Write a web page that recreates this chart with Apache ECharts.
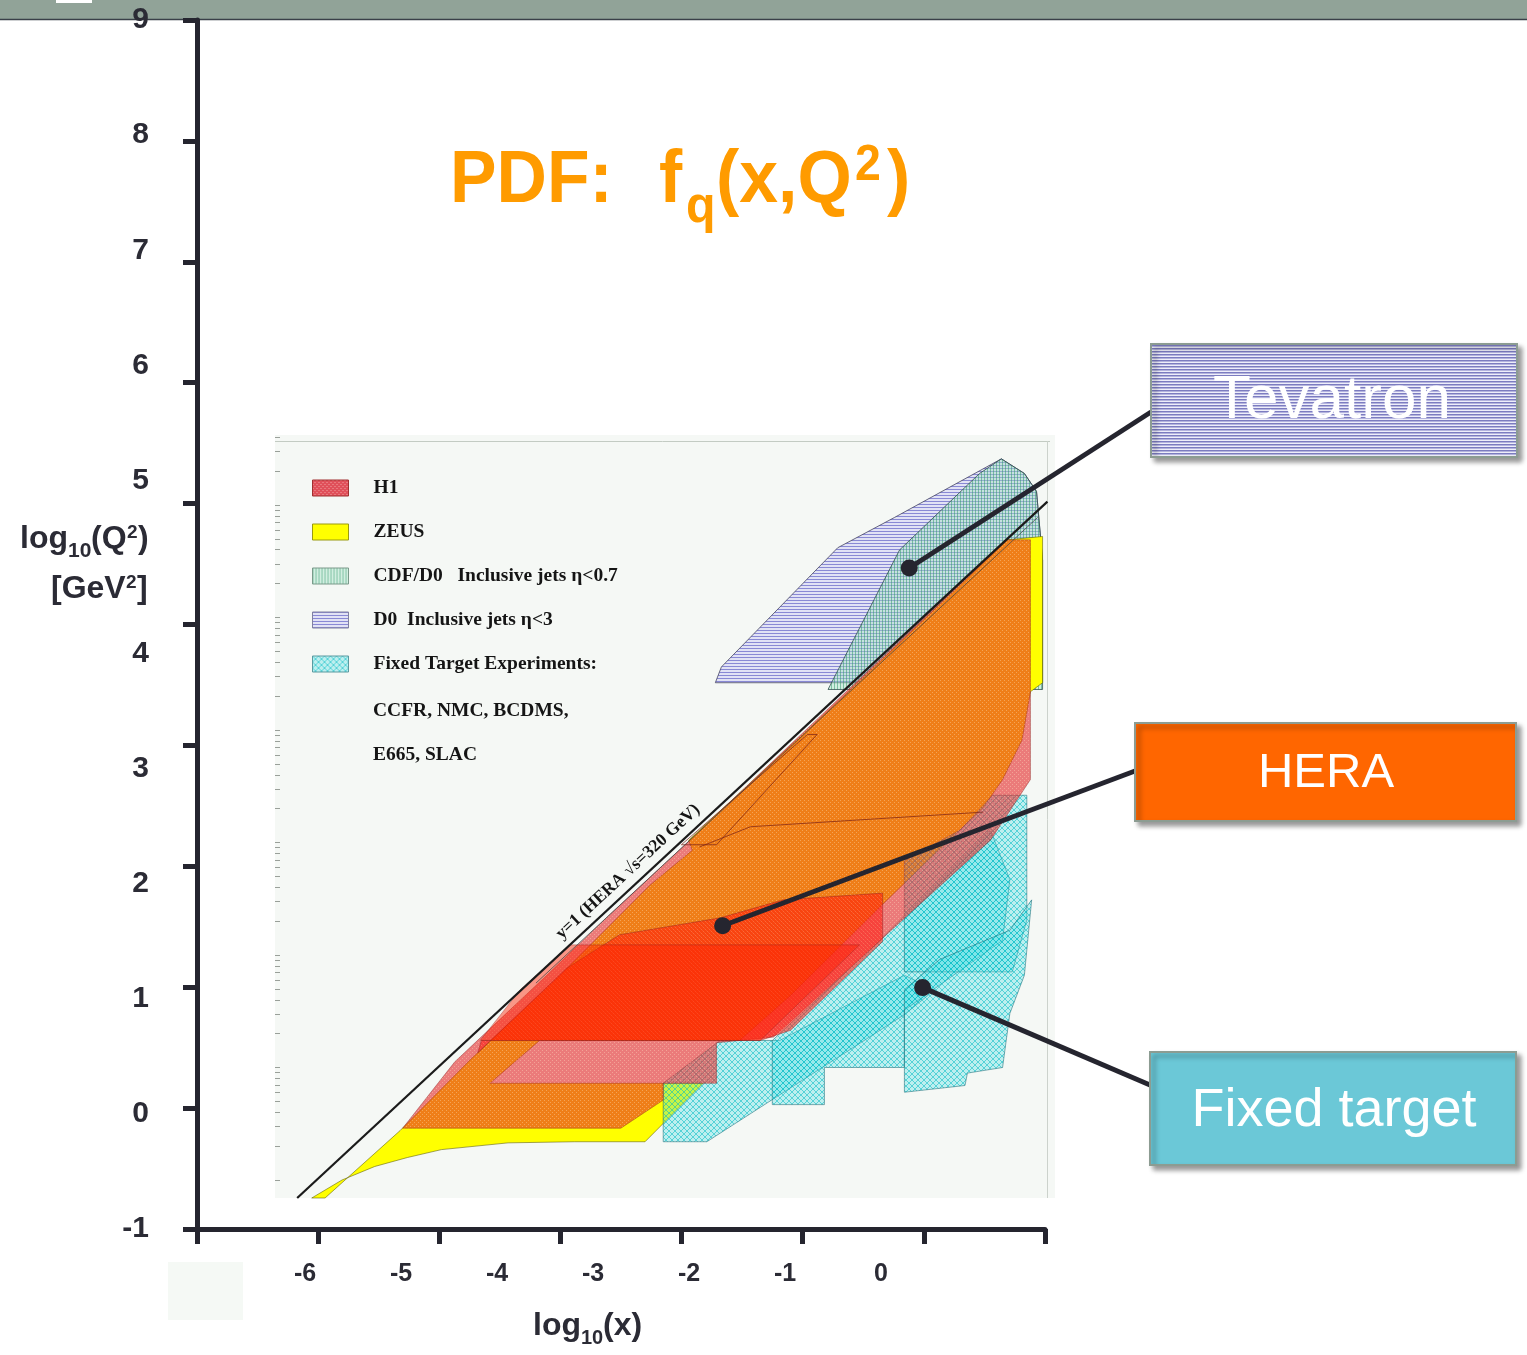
<!DOCTYPE html>
<html>
<head>
<meta charset="utf-8">
<script src="https://cdn.jsdelivr.net/npm/echarts/dist/echarts.min.js"></script>
<style>html,body{margin:0;padding:0;background:#fff;}#c{width:1527px;height:1355px;}</style>
</head>
<body>
<div id="c"></div>
<script>
// ---------------- DATA ----------------
const Y_TICKS = [-1, 0, 1, 2, 3, 4, 5, 6, 7, 8, 9];
// tick labels as placed on the slide (bottom to top, blank slots keep the original spacing)
const Y_LABEL_SLOTS = ['-1','','0','','1','','2','','3','','4','','','5','','6','','7','','8','','9'];
const X_TICK_LABELS = [-6, -5, -4, -3, -2, -1, 0];
const LEGEND_NAMES = ['H1', 'ZEUS', 'CDF/D0   Inclusive jets η<0.7', 'D0  Inclusive jets η<3', 'Fixed Target Experiments:'];
const LEGEND_EXTRA = ['CCFR, NMC, BCDMS,', 'E665, SLAC'];

// kinematic limit y=1 (log10 Q2 vs log10 x)
const KIN_LINE = [[-6.17, -1.16], [0.02, 5.03]];
const KIN_LINE_2 = [[-4.2, 0.75], [-0.06, 4.89]];
const KIN_LABEL = 'y=1 (HERA √s=320 GeV)';
const KIN_LABEL_POS = [-3.44, 1.74];

// Tevatron
const D0_ETA3 = [[-2.72,3.42],[-2.67,3.56],[-1.71,4.62],[-1.24,4.89],[-0.36,5.41],[-0.17,5.28],[-0.07,5.12],[-0.02,4.51],[-0.02,3.42]];
const CDF_ETA07 = [[-1.79,3.36],[-1.20,4.60],[-0.54,5.28],[-0.36,5.41],[-0.17,5.28],[-0.07,5.12],[-0.02,4.51],[-0.02,3.36]];

// HERA
const ZEUS_REGION = [[-5.94,-1.16],[-5.32,-0.56],[-4.74,0.07],[-4.00,0.82],[-3.26,1.62],[-2.91,1.93],[-2.94,2.02],[-1.67,3.29],[-0.31,4.69],[-0.02,4.72],[-0.02,3.42],[-0.12,3.34],[-0.19,2.91],[-0.35,2.56],[-0.51,2.31],[-1.34,1.45],[-2.10,0.64],[-2.52,0.24],[-4.17,0.24],[-4.58,-0.14],[-2.82,-0.14],[-3.30,-0.66],[-3.88,-0.66],[-4.43,-0.67],[-4.98,-0.73],[-5.26,-0.80],[-5.53,-0.88],[-5.80,-1.00],[-6.05,-1.16]];
const H1_MAIN = [[-5.30,-0.54],[-4.87,0.05],[-4.13,0.80],[-3.59,1.36],[-2.97,1.98],[-1.69,3.29],[-0.32,4.69],[-0.12,4.69],[-0.12,2.56],[-0.45,2.02],[-1.36,1.13],[-2.24,0.27],[-2.71,0.22],[-2.71,-0.14],[-3.15,-0.14],[-3.15,-0.29],[-3.50,-0.54]];
const H1_LOWQ = [[-4.68,0.13],[-3.95,0.88],[-3.51,1.18],[-2.68,1.33],[-2.16,1.49],[-1.34,1.55],[-1.34,1.12],[-2.10,0.33],[-2.35,0.24],[-4.65,0.24]];
const H1_SVX = [[-4.66,0.24],[-2.35,0.24],[-1.53,1.09],[-3.92,1.09],[-4.33,0.69]];
const H1_EDGE_A = [[-3.00,1.98],[-2.71,1.98],[-1.88,2.96],[-1.96,2.96],[-3.00,1.98]];
const H1_EDGE_B = [[-2.85,1.96],[-2.43,2.14],[-0.51,2.27]];

// Fixed target experiments
const FT_E665 = [[-3.15,-0.14],[-3.15,-0.66],[-2.79,-0.66],[-1.16,0.47],[-0.91,0.69],[-1.16,0.82],[-2.19,0.24],[-2.68,0.24]];
const FT_NMC = [[-2.25,0.24],[-2.25,-0.33],[-1.82,-0.33],[-1.82,0.00],[-1.16,0.00],[-1.16,0.51],[-0.35,1.13],[-0.29,1.67],[-0.45,2.11],[-1.36,1.13]];
const FT_BCDMS = [[-1.16,1.84],[-1.16,0.85],[-0.27,0.85],[-0.15,1.31],[-0.15,2.42],[-0.43,2.42],[-0.70,2.11]];
const FT_SLAC = [[-1.16,-0.22],[-0.66,-0.16],[-0.64,-0.05],[-0.35,0.00],[-0.29,0.48],[-0.17,0.82],[-0.11,1.49],[-0.29,1.22],[-0.87,0.96],[-1.16,0.69]];

// callouts
const CALLOUT_LABELS = ['Tevatron', 'HERA', 'Fixed target'];
const CALLOUT_DOTS = [[-1.12,4.44],[-2.66,1.26],[-1.01,0.71]];

// ---------------- STYLE / LAYOUT ----------------
const AX = '#25252f';
const TXT = '#2b2b35';
const SANS = 'Liberation Sans, Arial, sans-serif';
const SERIF = 'Liberation Serif, Times New Roman, serif';
const CALLOUT_ANCHORS = [[1151,412],[1135,771],[1150,1085]];

function pat(w, h, fn) {
  const c = document.createElement('canvas'); c.width = w; c.height = h;
  fn(c.getContext('2d'));
  return { image: c, repeat: 'repeat' };
}
const PAT_D0 = pat(4,3,g=>{g.fillStyle='rgba(212,212,245,0.6)';g.fillRect(0,0,4,3);g.fillStyle='rgba(115,115,205,0.8)';g.fillRect(0,0,4,1);});
const PAT_CDF = pat(3,4,g=>{g.fillStyle='rgba(160,225,195,0.42)';g.fillRect(0,0,3,4);g.fillStyle='rgba(55,155,110,0.55)';g.fillRect(0,0,1,4);});
const PAT_FT = pat(6,6,g=>{g.fillStyle='rgba(70,222,228,0.32)';g.fillRect(0,0,6,6);g.fillStyle='rgba(0,185,195,0.55)';for(let i=0;i<6;i++){g.fillRect(i,i,1,1);g.fillRect(5-i,i,1,1);}});
const PAT_H1 = pat(4,4,g=>{g.fillStyle='rgba(228,40,40,0.6)';g.fillRect(0,0,4,4);g.fillStyle='rgba(255,235,200,0.35)';g.fillRect(0,0,1,1);g.fillRect(2,2,1,1);});
const PAT_H1B = pat(4,4,g=>{g.fillStyle='rgba(255,20,10,0.55)';g.fillRect(0,0,4,4);g.fillStyle='rgba(255,200,150,0.3)';g.fillRect(1,1,1,1);g.fillRect(3,3,1,1);});
const PAT_H1_LEG = pat(4,4,g=>{g.fillStyle='#e0505a';g.fillRect(0,0,4,4);g.fillStyle='#f0a0a0';g.fillRect(0,0,1,1);g.fillRect(2,2,1,1);});
const PAT_TEV = pat(4,3,g=>{g.fillStyle='#eeeefa';g.fillRect(0,0,4,3);g.fillStyle='#7c7cc0';g.fillRect(0,0,4,1);g.fillStyle='#b4b4de';g.fillRect(0,1,4,1);});

const INNER_TICKS = [];
for (let d = -1; d <= 5; d++) for (let k = 1; k <= 9; k++) { const v = d + Math.log10(k); if (v >= -1.16 && v <= 5.62) INNER_TICKS.push(v); }

function polySeries(name, polys, styles, z, shapeType) {
  return {
    type: 'custom', name: name, xAxisIndex: 2, yAxisIndex: 1, z: z, silent: true,
    data: polys.map((p, i) => [p[0][0], p[0][1], i]),
    encode: { x: 0, y: 1 },
    renderItem: function (params, api) {
      const i = api.value(2);
      const pts = polys[i].map(pt => api.coord(pt));
      return { type: shapeType || 'polygon', shape: { points: pts }, style: styles[i] };
    }
  };
}

const H1_EDGE_STYLE = { fill: null, stroke: 'rgba(120,30,20,0.7)', lineWidth: 1 };
const series = [
  polySeries(LEGEND_NAMES[3], [D0_ETA3], [{ fill: PAT_D0, stroke: 'rgba(70,70,100,0.8)', lineWidth: 1 }], 2),
  polySeries(LEGEND_NAMES[2], [CDF_ETA07], [{ fill: PAT_CDF, stroke: 'rgba(50,80,80,0.8)', lineWidth: 1 }], 2),
  polySeries(LEGEND_NAMES[1], [ZEUS_REGION], [{ fill: '#ffff00', stroke: 'rgba(90,90,0,0.7)', lineWidth: 0.8 }], 2),
  polySeries(LEGEND_NAMES[4], [FT_E665, FT_NMC, FT_BCDMS, FT_SLAC], [0,1,2,3].map(() => ({ fill: PAT_FT, stroke: 'rgba(30,110,120,0.7)', lineWidth: 0.8 })), 2),
  polySeries(LEGEND_NAMES[0], [H1_MAIN, H1_LOWQ, H1_SVX], [
    { fill: PAT_H1, stroke: 'rgba(130,30,30,0.5)', lineWidth: 0.8 },
    { fill: PAT_H1B, stroke: 'rgba(130,30,30,0.5)', lineWidth: 0.8 },
    { fill: 'rgba(255,30,0,0.45)', stroke: 'rgba(130,30,30,0.4)', lineWidth: 0.8 }
  ], 2),
  polySeries(LEGEND_NAMES[0], [H1_EDGE_A, H1_EDGE_B], [H1_EDGE_STYLE, H1_EDGE_STYLE], 3, 'polyline'),
  {
    type: 'line', xAxisIndex: 2, yAxisIndex: 1, data: KIN_LINE_2, symbol: 'none', silent: true, z: 4,
    lineStyle: { color: 'rgba(60,60,60,0.7)', width: 1 }
  },
  {
    type: 'line', xAxisIndex: 2, yAxisIndex: 1, data: KIN_LINE, symbol: 'none', silent: true, z: 4,
    lineStyle: { color: '#1b1b1b', width: 2.2 }
  },
  {
    type: 'custom', xAxisIndex: 2, yAxisIndex: 1, z: 5, silent: true,
    data: [KIN_LABEL_POS],
    renderItem: function (params, api) {
      const c = api.coord([api.value(0), api.value(1)]);
      const a = api.coord(KIN_LINE[0]), b = api.coord(KIN_LINE[1]);
      const ang = Math.atan2(a[1] - b[1], b[0] - a[0]);
      return { type: 'text', x: c[0], y: c[1], rotation: ang,
        style: { text: KIN_LABEL, fontFamily: SERIF, fontWeight: 'bold', fontSize: 17.5, fill: '#151515', align: 'center', verticalAlign: 'middle' } };
    }
  },
  {
    type: 'custom', xAxisIndex: 2, yAxisIndex: 1, z: 20, silent: true,
    data: CALLOUT_DOTS.map((d, i) => [d[0], d[1], i]),
    renderItem: function (params, api) {
      const i = api.value(2);
      const c = api.coord([api.value(0), api.value(1)]);
      const a = CALLOUT_ANCHORS[i];
      return { type: 'group', children: [
        { type: 'line', shape: { x1: c[0], y1: c[1], x2: a[0], y2: a[1] }, style: { stroke: AX, lineWidth: 5 } },
        { type: 'circle', shape: { cx: c[0], cy: c[1], r: 8.5 }, style: { fill: AX } }
      ] };
    }
  }
];

function txt(text, x, y, size, opts) {
  return Object.assign({ type: 'text', x: x, y: y, z: 50,
    style: Object.assign({ text: text, fontFamily: SANS, fontWeight: 'bold', fontSize: size, fill: TXT, align: 'left', verticalAlign: 'middle' }, (opts && opts.style) || {}) },
    (opts && opts.el) || {});
}
const TITLE_C = '#ff9b00';
const tEl = { scaleX: 0.93 };

const boxes = [
  { x: 1151, y: 344, w: 366, h: 113, fill: PAT_TEV, size: 62, cx: 1332, cy: 401 },
  { x: 1135, y: 723, w: 381, h: 98, fill: '#ff6600', size: 49, cx: 1326, cy: 773 },
  { x: 1150, y: 1052, w: 366, h: 113, fill: '#6bc8d7', size: 54, cx: 1334, cy: 1111 }
];
const boxEls = [];
boxes.forEach((b, i) => {
  boxEls.push({ type: 'rect', z: 100, shape: { x: b.x, y: b.y, width: b.w, height: b.h },
    style: { fill: b.fill, stroke: '#8c9c92', lineWidth: 2, shadowBlur: 5, shadowOffsetX: 4, shadowOffsetY: 4, shadowColor: 'rgba(0,0,0,0.4)' } });
  boxEls.push({ type: 'text', z: 101, x: b.cx, y: b.cy,
    style: { text: CALLOUT_LABELS[i], fontFamily: SANS, fontSize: b.size, fill: '#ffffff', align: 'center', verticalAlign: 'middle' } });
});

const SERIF_LEG = { fontFamily: SERIF, fill: '#151515', fontSize: 19.5 };
const graphics = [
  { type: 'rect', z: -10, shape: { x: 0, y: 0, width: 1527, height: 19 }, style: { fill: '#91a398' } },
  { type: 'line', z: -9, shape: { x1: 0, y1: 19.5, x2: 1527, y2: 19.5 }, style: { stroke: '#3a4048', lineWidth: 1.5 } },
  { type: 'rect', z: -8, shape: { x: 56, y: 0, width: 36, height: 3 }, style: { fill: '#ffffff' } },
  { type: 'rect', z: -10, shape: { x: 275, y: 435, width: 780, height: 763 }, style: { fill: '#f5f8f5' } },
  { type: 'line', z: -9, shape: { x1: 275, y1: 441.5, x2: 1050, y2: 441.5 }, style: { stroke: '#c3cbc3', lineWidth: 1 } },
  { type: 'line', z: -9, shape: { x1: 1047.5, y1: 441, x2: 1047.5, y2: 1198 }, style: { stroke: '#ccd2cc', lineWidth: 1 } },
  { type: 'rect', z: -10, shape: { x: 168, y: 1262, width: 75, height: 58 }, style: { fill: '#f5f9f5' } },
  // title
  txt('PDF:', 450, 181, 75, { style: { fill: TITLE_C }, el: tEl }),
  txt('f', 659, 181, 75, { style: { fill: TITLE_C }, el: tEl }),
  txt('q', 686, 208, 52, { style: { fill: TITLE_C }, el: tEl }),
  txt('(x,Q', 716, 181, 75, { style: { fill: TITLE_C }, el: tEl }),
  txt('2', 855, 166, 50, { style: { fill: TITLE_C }, el: tEl }),
  txt(')', 887, 181, 75, { style: { fill: TITLE_C }, el: tEl }),
  // y axis name
  txt('log', 20, 539, 32), txt('10', 68, 551, 21), txt('(Q', 91, 539, 32), txt('2', 127, 533, 19), txt(')', 138, 539, 32),
  txt('[GeV', 51, 589, 32), txt('2', 126, 583, 19), txt(']', 137, 589, 32),
  // x axis name
  txt('log', 533, 1326, 32), txt('10', 581, 1338, 20), txt('(x)', 603, 1326, 32),
  // legend extra lines
  txt(LEGEND_EXTRA[0], 373, 711, 19.5, { style: SERIF_LEG }),
  txt(LEGEND_EXTRA[1], 373, 755, 19.5, { style: SERIF_LEG })
].concat(boxEls);

const legendIcons = [
  { fill: PAT_H1_LEG, border: '#a03030' },
  { fill: '#ffff00', border: '#9a9a10' },
  { fill: PAT_CDF, border: '#7a9a8a' },
  { fill: PAT_D0, border: '#8080a0' },
  { fill: PAT_FT, border: '#5a9aa0' }
];

const option = {
  animation: false,
  backgroundColor: '#ffffff',
  grid: [
    { left: 197, right: 482, top: 20, bottom: 126 },
    { left: 275, right: 472, top: 435, bottom: 157 }
  ],
  xAxis: [
    { gridIndex: 0, type: 'value', min: -7, max: 0, interval: 1, position: 'bottom',
      axisLine: { show: true, onZero: false, lineStyle: { color: AX, width: 5 } },
      axisTick: { show: true, length: 15, lineStyle: { color: AX, width: 5 } },
      axisLabel: { show: false }, splitLine: { show: false } },
    { gridIndex: 0, type: 'value', min: -7.125, max: 1.708, position: 'bottom',
      axisLine: { show: false, onZero: false }, axisTick: { show: false }, splitLine: { show: false },
      axisLabel: { show: true, customValues: X_TICK_LABELS, margin: 33, fontSize: 25, fontWeight: 'bold', fontFamily: SANS, color: TXT } },
    { gridIndex: 1, type: 'value', min: -6.353, max: 0.0825, show: false, axisLine: { onZero: false } }
  ],
  yAxis: [
    { gridIndex: 0, type: 'value', min: Y_TICKS[0], max: Y_TICKS[Y_TICKS.length - 1], interval: 1, position: 'left',
      axisLine: { show: true, onZero: false, lineStyle: { color: AX, width: 5 } },
      axisTick: { show: true, length: 14, lineStyle: { color: AX, width: 5 } },
      axisLabel: { show: false }, splitLine: { show: false } },
    { gridIndex: 1, type: 'value', min: -1.16, max: 5.622,
      axisLine: { show: false, onZero: false }, axisLabel: { show: false }, splitLine: { show: false },
      axisTick: { show: true, inside: true, length: 5, customValues: INNER_TICKS, lineStyle: { color: '#9aa09a', width: 1 } } },
    { gridIndex: 0, type: 'category', data: Y_LABEL_SLOTS, boundaryGap: false, position: 'left',
      axisLine: { show: false, onZero: false }, axisTick: { show: false }, splitLine: { show: false },
      axisLabel: { interval: 0, margin: 48, fontSize: 30, fontWeight: 'bold', fontFamily: SANS, color: TXT } }
  ],
  legend: {
    left: 312, top: 478, padding: 0, orient: 'vertical', itemWidth: 36, itemHeight: 16, itemGap: 24, selectedMode: false,
    data: LEGEND_NAMES.map((n, i) => ({ name: n, icon: 'rect', itemStyle: { color: legendIcons[i].fill, borderColor: legendIcons[i].border, borderWidth: 1 } })),
    textStyle: { fontFamily: SERIF, fontWeight: 'bold', fontSize: 19.5, color: '#151515', lineHeight: 16, padding: [0, 0, 0, 20] }
  },
  graphic: graphics,
  series: series
};

const chart = echarts.init(document.getElementById('c'), null, { renderer: 'canvas' });
chart.setOption(option);
</script>
</body>
</html>
